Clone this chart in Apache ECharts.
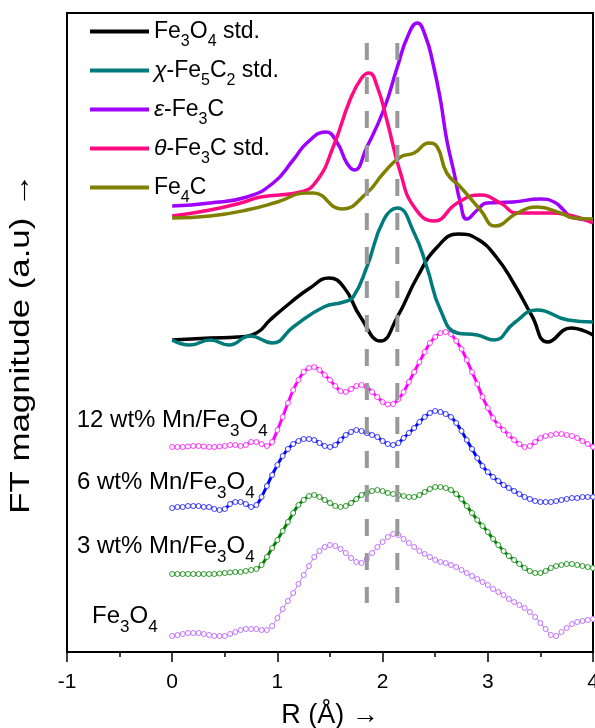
<!DOCTYPE html>
<html><head><meta charset="utf-8">
<script src="https://cdn.jsdelivr.net/npm/echarts/dist/echarts.min.js"></script>
<style>html,body{margin:0;padding:0;background:#fff}#c{width:595px;height:728px}</style>
</head><body><div id="c"></div>
<script>
// ---------- DATA (R in Å, FT magnitude in arbitrary units, offset stacked) ----------
const xTicks = [-1, 0, 1, 2, 3, 4];
const dashR = [1.85, 2.14];
const dashSpan = [60.9, 4.9];

// standards: [R, value] key points
const fe3o4Std = [[0.00,31.2],[0.36,31.4],[0.62,31.5],[0.80,31.9],[0.93,33.2],[1.12,34.9],[1.31,36.4],[1.49,37.4],[1.63,36.5],[1.79,33.5],[1.98,31.1],[2.14,33.5],[2.33,37.5],[2.52,40.5],[2.72,41.8],[2.90,41.3],[3.08,39.5],[3.25,36.8],[3.42,33.6],[3.57,31.0],[3.79,32.4],[4.00,31.7]];
const chiFe5C2 = [[0.00,31.2],[0.17,30.7],[0.36,31.2],[0.54,30.7],[0.74,31.6],[0.95,30.9],[1.15,32.5],[1.44,34.5],[1.63,35.0],[1.72,35.5],[1.85,38.5],[2.01,43.2],[2.14,44.4],[2.30,41.9],[2.42,38.5],[2.55,34.2],[2.71,31.9],[2.90,31.7],[3.06,31.2],[3.25,32.9],[3.47,34.2],[3.76,33.2],[4.00,33.0]];
const epsFe3C = [[0.00,44.6],[0.36,44.9],[0.71,45.5],[0.96,46.9],[1.15,49.2],[1.28,50.9],[1.46,52.0],[1.57,50.9],[1.66,48.9],[1.73,48.2],[1.85,50.5],[2.01,54.2],[2.14,58.5],[2.24,61.6],[2.33,62.9],[2.41,61.5],[2.48,58.8],[2.55,55.2],[2.61,51.2],[2.68,47.9],[2.74,44.9],[2.80,43.3],[2.90,44.2],[2.99,44.9],[3.24,45.0],[3.50,45.3],[3.63,45.0],[3.72,44.2],[3.79,43.5],[4.00,43.2]];
const thetaFe3C = [[0.00,43.6],[0.36,44.2],[0.65,44.9],[0.84,45.5],[1.22,46.0],[1.38,47.2],[1.53,50.5],[1.69,55.2],[1.80,57.4],[1.87,57.9],[1.95,56.5],[2.04,53.2],[2.17,47.9],[2.30,44.5],[2.49,43.1],[2.71,44.9],[2.93,45.7],[3.12,44.9],[3.28,43.9],[3.60,43.9],[4.00,42.9]];
const fe4C = [[0.00,43.4],[0.36,43.6],[0.71,44.2],[1.00,45.0],[1.28,45.9],[1.34,45.9],[1.61,44.3],[1.85,45.9],[2.01,47.9],[2.17,49.5],[2.30,49.9],[2.44,50.9],[2.52,50.5],[2.61,47.9],[2.74,46.5],[2.93,44.2],[3.07,42.6],[3.28,43.9],[3.47,44.5],[3.69,43.9],[3.82,43.4],[4.00,43.3]];

// samples: values on an R grid 0 .. 4 Å, step 0.05 Å
const rStep = 0.05;
const mn12 = [
 20.5,20.5,20.5,20.55,20.6,20.6,20.55,20.5,20.5,20.55,
 20.6,20.7,20.7,20.6,20.7,21.0,21.0,20.8,20.6,21.0,
 22.2,23.5,24.9,26.2,27.2,28.0,28.4,28.5,28.2,27.7,
 27.2,26.6,26.1,26.0,26.3,26.6,26.7,26.5,26.0,25.5,
 25.0,24.75,24.8,25.3,26.0,27.0,28.0,29.0,30.0,30.9,
 31.5,31.9,32.0,31.8,31.1,30.3,29.2,28.0,26.8,25.5,
 24.4,23.4,22.7,22.2,21.7,21.2,20.8,20.5,20.6,21.0,
 21.4,21.6,21.7,21.8,21.8,21.7,21.6,21.4,21.1,20.8,
 20.5];
const mn6 = [
 14.4,14.5,14.5,14.6,14.6,14.6,14.5,14.5,14.3,14.2,
 14.3,14.8,15.0,15.0,14.8,14.5,14.7,15.5,16.6,17.7,
 18.7,19.6,20.3,20.8,21.1,21.3,21.3,21.2,20.9,20.6,
 20.5,20.7,21.2,21.7,22.0,22.2,22.1,21.9,21.7,21.5,
 21.1,20.8,20.7,20.9,21.4,21.9,22.4,23.0,23.5,23.9,
 24.1,24.0,23.8,23.5,22.9,22.1,21.2,20.3,19.4,18.6,
 18.0,17.5,17.1,16.7,16.4,16.1,15.8,15.5,15.3,15.1,
 15.0,15.0,15.0,15.1,15.2,15.3,15.4,15.4,15.5,15.5,
 15.5];
const mn3 = [
 7.8,7.8,7.8,7.8,7.8,7.8,7.8,7.8,7.8,7.85,
 7.9,7.95,8.0,8.0,8.1,8.2,8.3,8.7,9.5,10.4,
 11.2,12.1,13.0,13.9,14.7,15.2,15.6,15.7,15.5,15.2,
 14.9,14.6,14.5,14.6,14.9,15.3,15.7,15.9,16.1,16.2,
 16.1,15.9,15.8,15.7,15.6,15.5,15.5,15.7,16.0,16.3,
 16.5,16.5,16.4,16.2,15.8,15.3,14.6,13.9,13.2,12.6,
 12.0,11.3,10.7,10.1,9.6,9.2,8.8,8.4,8.1,7.9,
 7.9,8.1,8.4,8.6,8.7,8.8,8.8,8.7,8.6,8.5,
 8.4];
const fe3o4 = [
 1.6,1.7,1.8,1.9,1.9,1.9,1.8,1.7,1.6,1.6,
 1.6,1.8,2.0,2.2,2.3,2.3,2.3,2.2,2.2,2.6,
 3.4,4.3,5.1,5.9,6.8,7.7,8.6,9.5,10.1,10.5,
 10.7,10.6,10.3,9.9,9.4,9.0,8.9,9.3,9.9,10.5,
 11.0,11.5,11.8,11.7,11.3,10.9,10.5,10.1,9.8,9.5,
 9.2,9.0,8.9,8.7,8.5,8.2,7.9,7.6,7.3,7.0,
 6.7,6.3,6.0,5.7,5.3,5.0,4.7,4.4,4.0,3.5,
 2.9,2.3,1.7,1.6,2.0,2.4,2.8,3.0,3.1,3.2,
 3.3];

// ---------- CHART ----------
const FONT = "'Liberation Sans', Arial, sans-serif";
const onGrid = vals => vals.map((v, i) => [+(i * rStep).toFixed(2), v]);

const legendRich = {
  n: {fontSize: 23, lineHeight: 23, fontFamily: FONT, color: '#000', verticalAlign: 'middle'},
  i: {fontSize: 23, lineHeight: 23, fontFamily: FONT, color: '#000', fontStyle: 'italic', verticalAlign: 'middle'},
  s: {fontSize: 16, lineHeight: 16, fontFamily: FONT, color: '#000', verticalAlign: 'middle', padding: [21, 0, 0, 0]}
};
const legendText = {
  'Fe3O4 std.': '{n|Fe}{s|3}{n|O}{s|4}{n| std.}',
  'χ-Fe5C2 std.': '{i|χ}{n|-Fe}{s|5}{n|C}{s|2}{n| std.}',
  'ε-Fe3C': '{i|ε}{n|-Fe}{s|3}{n|C}',
  'θ-Fe3C std.': '{i|θ}{n|-Fe}{s|3}{n|C std.}',
  'Fe4C': '{n|Fe}{s|4}{n|C}'
};
const labRich = {
  n: {fontSize: 24, lineHeight: 24, fontFamily: FONT, fill: '#000', color: '#000', verticalAlign: 'middle'},
  s: {fontSize: 17, lineHeight: 17, fontFamily: FONT, fill: '#000', color: '#000', verticalAlign: 'middle', padding: [22, 0, 0, 0]}
};
function label(x, y, txt) {
  return {type: 'text', x: x, y: y, z: 50,
    style: {text: txt, rich: labRich, fontFamily: FONT, fontSize: 24, fill: '#000',
      align: 'left', verticalAlign: 'middle', textAlign: 'left', textVerticalAlign: 'middle'}};
}

function stdSeries(name, data, color) {
  return {type: 'line', name: name, data: data, smooth: 0.5, symbol: 'none', showSymbol: false,
    lineStyle: {color: color, width: 3.5}, itemStyle: {color: color}, z: 3, silent: true};
}
function sampleSeries(name, vals, lineColor, dotColor, lw, size) {
  return {type: 'line', name: name, data: onGrid(vals), smooth: 0.3, symbol: 'circle', symbolSize: size,
    showSymbol: true, showAllSymbol: true,
    lineStyle: {color: lineColor, width: lw},
    itemStyle: {color: '#fff', borderColor: dotColor, borderWidth: 1}, z: 2, silent: true};
}
function dashSeries(r) {
  return {type: 'line', name: 'dash' + r, data: [[r, dashSpan[0]], [r, dashSpan[1]]], symbol: 'none',
    lineStyle: {color: '#999', width: 4, type: [17, 17], cap: 'butt'}, z: 5, silent: true};
}

const chart = echarts.init(document.getElementById('c'), null, {renderer: 'canvas'});
chart.setOption({
  animation: false,
  backgroundColor: '#fff',
  grid: {left: 67, right: 2, top: 13, bottom: 76, show: true, borderColor: '#000', borderWidth: 2,
    backgroundColor: 'transparent', containLabel: false, outerBoundsMode: 'none'},
  xAxis: {type: 'value', min: xTicks[0], max: xTicks[xTicks.length - 1], interval: 1,
    axisLine: {show: true, lineStyle: {color: '#000', width: 2}},
    axisTick: {show: true, length: 10, lineStyle: {color: '#000', width: 1.5}},
    minorTick: {show: true, splitNumber: 2, length: 5, lineStyle: {color: '#000', width: 1.5}},
    splitLine: {show: false}, minorSplitLine: {show: false},
    axisLabel: {fontSize: 21, color: '#000', fontFamily: FONT, margin: 20, showMinLabel: true, showMaxLabel: true},
    name: 'R (Å) →', nameLocation: 'middle', nameGap: 50,
    nameTextStyle: {fontSize: 27, color: '#000', fontFamily: FONT}},
  yAxis: {type: 'value', min: 0, max: 63.9, show: false},
  legend: {
    data: ['Fe3O4 std.', 'χ-Fe5C2 std.', 'ε-Fe3C', 'θ-Fe3C std.', 'Fe4C'],
    orient: 'vertical', left: 90, top: 13, padding: 0, icon: 'rect', itemWidth: 59, itemHeight: 4, itemGap: 2,
    selectedMode: false, formatter: n => legendText[n] || n,
    textStyle: {rich: legendRich, fontFamily: FONT, fontSize: 23, color: '#000'}
  },
  graphic: [
    label(76.7, 420.5, '{n|12 wt% Mn/Fe}{s|3}{n|O}{s|4}'),
    label(77, 482, '{n|6 wt% Mn/Fe}{s|3}{n|O}{s|4}'),
    label(77, 546, '{n|3 wt% Mn/Fe}{s|3}{n|O}{s|4}'),
    label(92, 616, '{n|Fe}{s|3}{n|O}{s|4}'),
    {type: 'text', x: 22, y: 343.5, rotation: Math.PI / 2, scaleX: 1.29, z: 50,
      style: {text: 'FT magnitude (a.u) →', fontSize: 27, fontFamily: FONT, fill: '#000',
        align: 'center', verticalAlign: 'middle', textAlign: 'center', textVerticalAlign: 'middle'}}
  ],
  series: [
    sampleSeries('Fe3O4', fe3o4, '#c070ff', '#c070ff', 1, 5),
    sampleSeries('3 wt% Mn/Fe3O4', mn3, '#008000', '#2f9a2f', 3, 5),
    sampleSeries('6 wt% Mn/Fe3O4', mn6, '#0000ff', '#3b3bff', 3, 5),
    sampleSeries('12 wt% Mn/Fe3O4', mn12, '#ff00ff', '#ff3cff', 3, 5),
    stdSeries('Fe3O4 std.', fe3o4Std, '#000000'),
    stdSeries('χ-Fe5C2 std.', chiFe5C2, '#007b7b'),
    stdSeries('ε-Fe3C', epsFe3C, '#9d00ff'),
    stdSeries('θ-Fe3C std.', thetaFe3C, '#ff0a82'),
    stdSeries('Fe4C', fe4C, '#808000'),
    dashSeries(dashR[0]),
    dashSeries(dashR[1])
  ]
});
</script></body></html>
